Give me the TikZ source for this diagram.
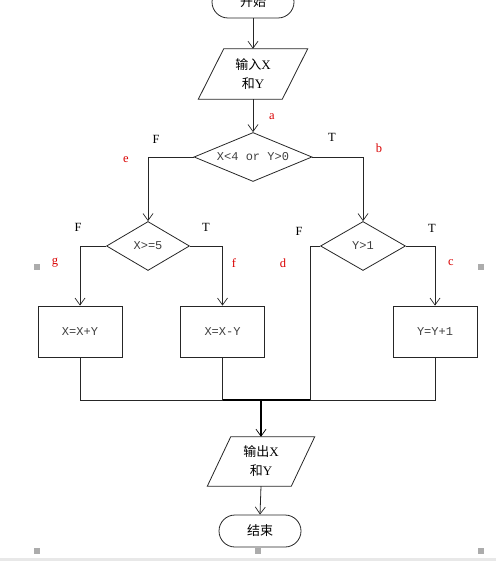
\documentclass[tikz,border=0pt]{standalone}
\usepackage{fontspec}
\setmainfont{Liberation Serif}
\newfontfamily\cjk{Noto Sans CJK SC}
\newfontfamily\monof{Liberation Mono}
\usetikzlibrary{shapes.geometric,arrows.meta}
\begin{document}
\begin{tikzpicture}[x=1pt,y=-1pt,
  ln/.style={draw=black!85, line width=0.8pt},
  thick line/.style={draw=black, line width=1.5pt},
  arr/.style={-{Straight Barb[length=7pt,width=10pt,line width=0.7pt]}},
  term/.style={draw=black!85, line width=0.8pt, rounded corners=16pt, minimum width=82pt, minimum height=32pt, inner sep=0pt, font=\cjk\fontsize{13}{15}\selectfont},
  iobox/.style={minimum height=#1, inner sep=0pt, align=center, font=\fontsize{13}{19}\selectfont},
  dec/.style={draw=black!85, line width=0.8pt, diamond, inner sep=0pt, minimum height=49pt, text=black!75, font=\monof\fontsize{12}{14}\selectfont},
  proc/.style={draw=black!85, line width=0.8pt, minimum width=84pt, minimum height=51pt, inner sep=0pt, text=black!75, font=\monof\fontsize{12}{14}\selectfont},
  lbl/.style={font=\fontsize{12.5}{14}\selectfont},
  rl/.style={lbl, text=red!85!black},
  handle/.style={fill=gray!65, draw=none, minimum size=6pt, inner sep=0pt}
]
\useasboundingbox (0,0) rectangle (496,561);
\fill[gray!18] (0,558) rectangle (496,561);

% nodes
\node[term] (start) at (253,2) {开始};
\node[iobox=50pt, minimum width=109pt] (in) at (253,74) {{\cjk 输入}X\\{\cjk 和}Y};
\draw[ln] (in.south west) -- ++(84,0) -- (in.north east) -- ++(-84,0) -- cycle;

\node[dec, minimum width=118pt, aspect=2.4] (d1) at (253,157) {X<4 or Y>0};
\node[dec, minimum width=83pt, aspect=1.7] (d2) at (148,246) {X>=5};
\node[dec, minimum width=85pt, aspect=1.7] (d3) at (363,246) {Y>1};

\node[proc] (b1) at (80,331.5) {X=X+Y};
\node[proc] (b2) at (222.5,331.5) {X=X-Y};
\node[proc] (b3) at (435,331.5) {Y=Y+1};

\coordinate (mrg) at (261,400);
\coordinate (jd) at (310,400);

\node[iobox=49pt, minimum width=107pt] (out) at (261,461.5) {{\cjk 输出}X\\{\cjk 和}Y};
\draw[ln] (out.south west) -- ++(84,0) -- (out.north east) -- ++(-84,0) -- cycle;

\node[term] (end) at (260,531) {结束};

% connectors
\draw[ln,arr] (start.south) -- (in.north);
\draw[ln,arr] (in.south) -- (d1.north);
\draw[ln,arr] (d1.west) -| (d2.north);
\draw[ln,arr] (d1.east) -| (d3.north);
\draw[ln,arr] (d2.west) -| (b1.north);
\draw[ln,arr] (d2.east) -| (b2.north);
\draw[ln,arr] (d3.east) -| (b3.north);
\draw[ln] (d3.west) -| (jd);
\draw[ln] (b1.south) |- (b2.south |- mrg);
\draw[ln] (b2.south) -- (b2.south |- mrg);
\draw[ln] (b3.south) |- (jd);
\draw[thick line] (b2.south |- mrg) -- (jd);
\draw[thick line, arr] (mrg) -- (out.north);
\draw[ln,arr] (out.south) -- (end.north);

% labels
\node[rl] (la) at (272,117) {a};
\node[lbl] (f1) at (156,139) {F};
\node[rl] (le) at (126,160) {e};
\node[lbl] (t1) at (332,137) {T};
\node[rl] (lb) at (379,148) {b};
\node[lbl] (f2) at (78,227) {F};
\node[rl] (lg) at (55,263) {g};
\node[lbl] (t2) at (206,227) {T};
\node[rl] (lf) at (234,263) {f};
\node[lbl] (f3) at (299,231) {F};
\node[rl] (ld) at (283,263) {d};
\node[lbl] (t3) at (432,228) {T};
\node[rl] (lc) at (451,263) {c};

% selection handles
\node[handle] (h1) at (37,267) {};
\node[handle] (h2) at (481,267) {};
\node[handle] (h3) at (37,551) {};
\node[handle] (h4) at (258,551) {};
\node[handle] (h5) at (481,551) {};
\end{tikzpicture}
\end{document}
